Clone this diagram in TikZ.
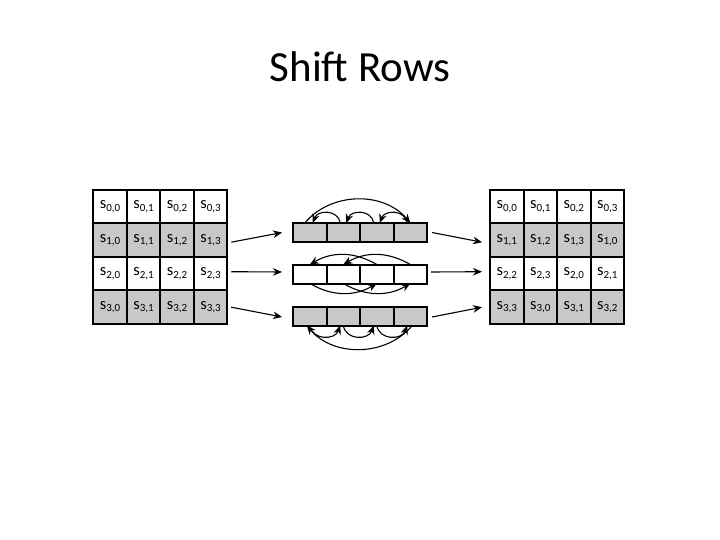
\documentclass[tikz,border=0pt]{standalone}
\usepackage{fontspec}
\setmainfont{Carlito}
\usetikzlibrary{arrows.meta}
\definecolor{cellgray}{RGB}{200,200,200}
\newcommand{\sij}[2]{s\raisebox{-2.8pt}{\fontsize{11}{11}\selectfont #1,#2}}
\tikzset{
  cell/.style={draw,line width=2pt,minimum width=33.5pt,minimum height=33.5pt,
    inner sep=0pt,outer sep=0pt,font=\fontsize{16.5}{16.5}\selectfont},
  graycell/.style={cell,fill=cellgray},
  byte/.style={draw,line width=2pt,minimum width=33.5pt,minimum height=19pt,
    inner sep=0pt,outer sep=0pt},
  graybyte/.style={byte,fill=cellgray},
  arr/.style={-{Stealth[length=9pt,width=7.5pt]},line width=1.1pt},
}

\begin{document}
\begin{tikzpicture}[x=1pt,y=1pt]
\useasboundingbox (0,0) rectangle (720,-540);
\node (title) at (360,-67) {\fontsize{43}{43}\selectfont Shift Rows};

% state before
\node[cell] (l-0-0) at (110,-206.7) {\sij{0}{0}};
\node[cell] (l-0-1) at (143.5,-206.7) {\sij{0}{1}};
\node[cell] (l-0-2) at (177,-206.7) {\sij{0}{2}};
\node[cell] (l-0-3) at (210.5,-206.7) {\sij{0}{3}};
\node[graycell] (l-1-0) at (110,-240.2) {\sij{1}{0}};
\node[graycell] (l-1-1) at (143.5,-240.2) {\sij{1}{1}};
\node[graycell] (l-1-2) at (177,-240.2) {\sij{1}{2}};
\node[graycell] (l-1-3) at (210.5,-240.2) {\sij{1}{3}};
\node[cell] (l-2-0) at (110,-273.7) {\sij{2}{0}};
\node[cell] (l-2-1) at (143.5,-273.7) {\sij{2}{1}};
\node[cell] (l-2-2) at (177,-273.7) {\sij{2}{2}};
\node[cell] (l-2-3) at (210.5,-273.7) {\sij{2}{3}};
\node[graycell] (l-3-0) at (110,-307.2) {\sij{3}{0}};
\node[graycell] (l-3-1) at (143.5,-307.2) {\sij{3}{1}};
\node[graycell] (l-3-2) at (177,-307.2) {\sij{3}{2}};
\node[graycell] (l-3-3) at (210.5,-307.2) {\sij{3}{3}};

% state after
\node[cell] (r-0-0) at (506.8,-206.7) {\sij{0}{0}};
\node[cell] (r-0-1) at (540.3,-206.7) {\sij{0}{1}};
\node[cell] (r-0-2) at (573.8,-206.7) {\sij{0}{2}};
\node[cell] (r-0-3) at (607.3,-206.7) {\sij{0}{3}};
\node[graycell] (r-1-0) at (506.8,-240.2) {\sij{1}{1}};
\node[graycell] (r-1-1) at (540.3,-240.2) {\sij{1}{2}};
\node[graycell] (r-1-2) at (573.8,-240.2) {\sij{1}{3}};
\node[graycell] (r-1-3) at (607.3,-240.2) {\sij{1}{0}};
\node[cell] (r-2-0) at (506.8,-273.7) {\sij{2}{2}};
\node[cell] (r-2-1) at (540.3,-273.7) {\sij{2}{3}};
\node[cell] (r-2-2) at (573.8,-273.7) {\sij{2}{0}};
\node[cell] (r-2-3) at (607.3,-273.7) {\sij{2}{1}};
\node[graycell] (r-3-0) at (506.8,-307.2) {\sij{3}{3}};
\node[graycell] (r-3-1) at (540.3,-307.2) {\sij{3}{0}};
\node[graycell] (r-3-2) at (573.8,-307.2) {\sij{3}{1}};
\node[graycell] (r-3-3) at (607.3,-307.2) {\sij{3}{2}};

% the three rows being rotated
\node[graybyte] (b1-0) at (309.8,-232.5) {};
\node[graybyte] (b1-1) at (343.3,-232.5) {};
\node[graybyte] (b1-2) at (376.8,-232.5) {};
\node[graybyte] (b1-3) at (410.3,-232.5) {};
\node[byte] (b2-0) at (309.8,-274) {};
\node[byte] (b2-1) at (343.3,-274) {};
\node[byte] (b2-2) at (376.8,-274) {};
\node[byte] (b2-3) at (410.3,-274) {};
\node[graybyte] (b3-0) at (309.8,-316) {};
\node[graybyte] (b3-1) at (343.3,-316) {};
\node[graybyte] (b3-2) at (376.8,-316) {};
\node[graybyte] (b3-3) at (410.3,-316) {};

% in and out
\draw[arr] ([xshift=4pt,yshift=-2pt]l-1-3.east) -- ([xshift=-11pt]b1-0.west);
\draw[arr] ([xshift=4pt,yshift=2pt]l-2-3.east) -- ([xshift=-11pt,yshift=2pt]b2-0.west);
\draw[arr] ([xshift=4pt]l-3-3.east) -- ([xshift=-11pt,yshift=-1pt]b3-0.west);
\draw[arr] ([xshift=5pt]b1-3.east) -- ([xshift=-8pt,yshift=-2pt]r-1-0.west);
\draw[arr] ([xshift=4pt,yshift=2pt]b2-3.east) -- ([xshift=-8pt,yshift=2pt]r-2-0.west);
\draw[arr] ([xshift=5pt,yshift=-1pt]b3-3.east) -- ([xshift=-8pt]r-3-0.west);

% row 1: one to the left
\draw[arr] ([xshift=-3pt]b1-1.north) to[out=100,in=70,looseness=1.3] ([xshift=3pt]b1-0.north);
\draw[arr] ([xshift=-3pt]b1-2.north) to[out=100,in=70,looseness=1.3] ([xshift=3pt]b1-1.north);
\draw[arr] ([xshift=-3pt]b1-3.north) to[out=100,in=70,looseness=1.3] ([xshift=3pt]b1-2.north);
\draw[arr] ([xshift=-5pt]b1-0.north) to[out=50,in=130] (b1-3.north);

% row 2: two to the left
\draw[arr] (b2-2.north) to[out=150,in=30] (b2-0.north);
\draw[arr] (b2-3.north) to[out=150,in=30] (b2-1.north);
\draw[arr] (b2-0.south) to[out=-30,in=-150] (b2-2.south);
\draw[arr] (b2-1.south) to[out=-30,in=-150] (b2-3.south);

% row 3: three to the left
\draw[arr] (b3-0.south) to[out=-80,in=-110,looseness=1.3] ([xshift=-3pt]b3-1.south);
\draw[arr] (b3-1.south) to[out=-80,in=-110,looseness=1.3] ([xshift=-3pt]b3-2.south);
\draw[arr] (b3-2.south) to[out=-80,in=-110,looseness=1.3] ([xshift=-3pt]b3-3.south);
\draw[arr] ([xshift=2pt]b3-3.south) to[out=-130,in=-50] ([xshift=-3pt]b3-0.south);
\end{tikzpicture}
\end{document}
